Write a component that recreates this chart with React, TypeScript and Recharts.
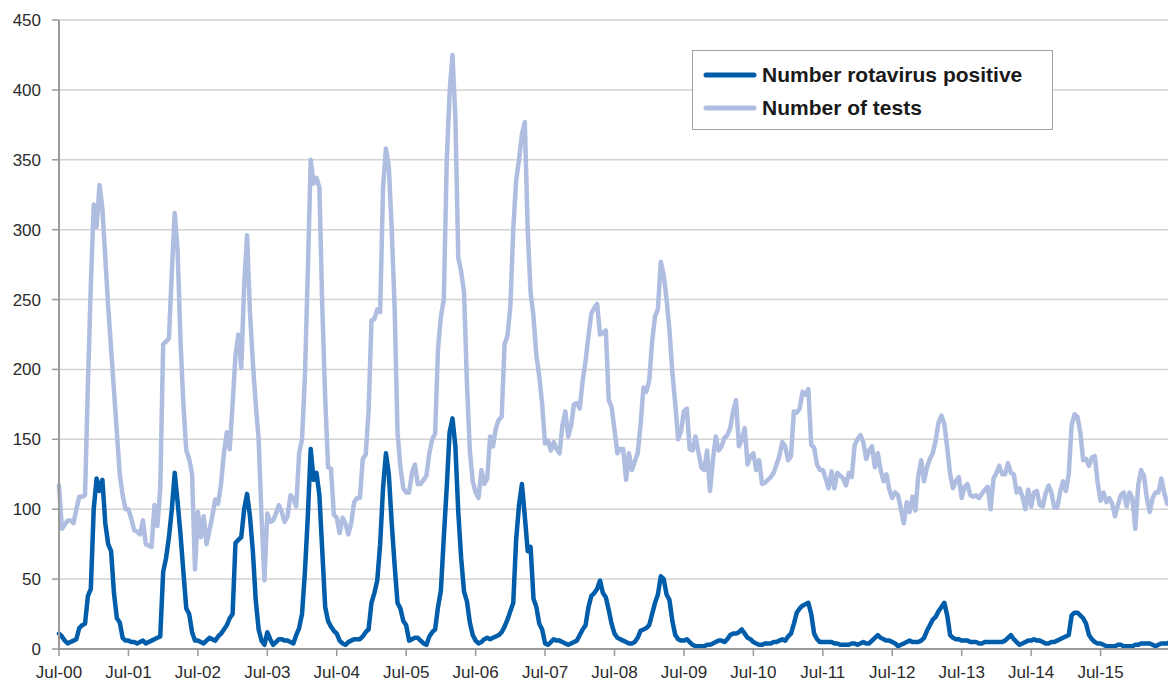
import React from 'react';
import { LineChart, Line, XAxis, YAxis, CartesianGrid, Legend, ReferenceLine } from 'recharts';

// Half-monthly periods counted from July 2000; one axis label per July.
const yearLabels = [
  'Jul-00', 'Jul-01', 'Jul-02', 'Jul-03', 'Jul-04', 'Jul-05', 'Jul-06', 'Jul-07',
  'Jul-08', 'Jul-09', 'Jul-10', 'Jul-11', 'Jul-12', 'Jul-13', 'Jul-14', 'Jul-15', '',
];
const periodsPerYear = 24;
const valueTicks = [0, 50, 100, 150, 200, 250, 300, 350, 400, 450];

const positiveCounts = [
  11, 9, 6, 4, 5, 6, 7, 15, 17, 18, 38, 43, 100, 122, 113, 121, 90, 75, 70, 40, 22, 19, 8, 6, 6,
  5, 5, 4, 5, 6, 4, 5, 6, 7, 8, 9, 55, 65, 80, 100, 126, 105, 82, 55, 29, 25, 12, 6, 6,
  5, 4, 6, 8, 7, 6, 9, 11, 14, 17, 22, 25, 76, 78, 80, 100, 111, 95, 70, 35, 14, 6, 3, 12,
  7, 3, 5, 7, 7, 6, 6, 5, 4, 10, 15, 25, 55, 95, 143, 121, 126, 110, 70, 30, 20, 16, 13, 11,
  6, 4, 3, 5, 6, 7, 7, 7, 9, 12, 14, 33, 40, 49, 75, 115, 140, 125, 90, 60, 33, 29, 20, 17,
  6, 7, 8, 8, 6, 4, 3, 9, 12, 14, 30, 42, 80, 115, 155, 165, 145, 98, 65, 41, 34, 19, 10, 6,
  4, 5, 7, 8, 7, 8, 9, 10, 12, 16, 21, 27, 33, 78, 103, 118, 95, 70, 73, 36, 30, 18, 14, 4,
  3, 5, 7, 6, 6, 5, 4, 3, 4, 5, 6, 10, 14, 17, 30, 38, 40, 43, 49, 40, 37, 28, 18, 11,
  8, 7, 6, 5, 4, 4, 5, 8, 13, 14, 15, 17, 25, 33, 39, 52, 50, 39, 35, 20, 10, 7, 6, 6,
  7, 5, 3, 2, 2, 2, 2, 3, 3, 4, 5, 6, 6, 5, 7, 10, 11, 11, 12, 14, 11, 8, 7, 5,
  4, 3, 3, 4, 4, 4, 5, 5, 6, 7, 6, 9, 11, 18, 26, 29, 31, 32, 33, 25, 11, 7, 5, 5,
  5, 5, 5, 4, 4, 3, 3, 3, 3, 4, 4, 3, 4, 5, 4, 4, 6, 8, 10, 8, 7, 6, 6, 5,
  4, 2, 3, 4, 5, 6, 5, 5, 5, 6, 8, 13, 17, 21, 23, 27, 30, 33, 24, 10, 8, 7, 7, 6,
  6, 6, 5, 5, 5, 4, 4, 5, 5, 5, 5, 5, 5, 5, 6, 8, 10, 7, 5, 3, 4, 5, 6, 6,
  7, 6, 6, 5, 4, 4, 5, 5, 6, 7, 8, 9, 10, 24, 26, 26, 24, 22, 18, 10, 7, 5, 4, 4,
  3, 2, 2, 2, 2, 3, 3, 2, 2, 2, 2, 3, 3, 4, 4, 4, 4, 3, 2, 3, 4, 4, 4, 5,
];

const testCounts = [
  117, 86, 89, 92, 92, 90, 100, 109, 109, 110, 190, 260, 318, 302, 332, 315, 280, 245, 215, 185, 155, 125, 110, 100, 100,
  93, 85, 84, 82, 92, 75, 74, 73, 103, 88, 115, 218, 220, 222, 270, 312, 285, 220, 175, 142, 136, 125, 57, 98,
  80, 95, 75, 85, 95, 107, 104, 118, 140, 155, 143, 175, 210, 225, 201, 260, 296, 241, 205, 175, 150, 95, 49, 97,
  91, 92, 97, 103, 98, 91, 95, 110, 108, 102, 140, 150, 195, 270, 350, 333, 337, 330, 245, 180, 130, 129, 96, 94,
  83, 94, 90, 82, 90, 105, 108, 108, 136, 139, 170, 235, 236, 243, 241, 330, 358, 345, 300, 245, 155, 130, 115, 112,
  112, 126, 132, 118, 118, 121, 124, 140, 150, 154, 215, 238, 250, 348, 398, 425, 380, 280, 270, 255, 190, 142, 120, 112,
  108, 128, 118, 122, 152, 145, 158, 164, 166, 218, 224, 245, 300, 335, 350, 368, 377, 300, 255, 238, 210, 195, 175, 147,
  149, 142, 148, 143, 140, 160, 170, 152, 160, 175, 176, 172, 192, 206, 224, 240, 244, 247, 225, 226, 228, 178, 173, 157,
  140, 143, 143, 121, 140, 128, 134, 140, 160, 187, 184, 192, 220, 238, 243, 277, 268, 250, 228, 198, 175, 150, 156, 170,
  172, 143, 142, 152, 141, 130, 128, 142, 113, 135, 152, 142, 145, 151, 153, 158, 170, 178, 145, 150, 158, 132, 138, 140,
  128, 135, 118, 119, 121, 123, 126, 132, 138, 148, 145, 135, 138, 170, 169, 172, 184, 182, 186, 146, 144, 132, 128, 128,
  122, 115, 127, 115, 126, 124, 122, 117, 126, 123, 146, 150, 153, 148, 136, 142, 145, 130, 140, 128, 120, 125, 114, 108,
  112, 110, 100, 90, 105, 98, 109, 99, 124, 135, 120, 130, 136, 140, 149, 162, 167, 161, 144, 125, 115, 120, 123, 108,
  116, 118, 110, 109, 110, 108, 111, 114, 116, 100, 122, 126, 131, 125, 125, 133, 126, 125, 112, 115, 109, 100, 114, 102,
  112, 113, 103, 102, 111, 117, 112, 101, 101, 112, 120, 113, 125, 160, 168, 166, 155, 135, 136, 131, 137, 138, 119, 106,
  112, 105, 108, 104, 95, 103, 110, 112, 102, 112, 108, 86, 117, 128, 124, 108, 98, 108, 112, 112, 122, 112, 104, 106,
];

const seriesNames = {
  positives: 'Number rotavirus positive',
  tests: 'Number of tests',
};
const seriesColors = {
  positives: '#005DAA',
  tests: '#AEBDE0',
};

const data = positiveCounts.map((p, i) => ({ period: i, positives: p, tests: testCounts[i] }));
const lastPeriod = (yearLabels.length - 1) * periodsPerYear;
const yearTicks = yearLabels.map((_, k) => k * periodsPerYear);

const fontFamily = '"Liberation Sans", Arial, Helvetica, sans-serif';
const tickStyle = { fontFamily, fontSize: 17, fill: '#2b2b2b' };

const LegendBox = () => {
  const rows = [
    { key: 'positives', top: 24 },
    { key: 'tests', top: 57 },
  ] as const;
  return (
    <div
      style={{
        position: 'relative',
        width: 361,
        height: 80,
        boxSizing: 'border-box',
        border: '1px solid #a3a3a3',
        background: '#ffffff',
        fontFamily,
        fontWeight: 'bold',
        fontSize: 21,
        color: '#1a1a1a',
      }}
    >
      {rows.map((r) => (
        <div key={r.key} style={{ position: 'absolute', left: 0, top: r.top - 12, height: 24, width: '100%' }}>
          <svg width={60} height={24} style={{ position: 'absolute', left: 8, top: 0 }}>
            <line x1={5} y1={12} x2={53} y2={12} stroke={seriesColors[r.key]} strokeWidth={5} strokeLinecap="round" />
          </svg>
          <span style={{ position: 'absolute', left: 69, top: 0, lineHeight: '24px', whiteSpace: 'nowrap' }}>
            {seriesNames[r.key]}
          </span>
        </div>
      ))}
    </div>
  );
};

export default function App() {
  return (
    <LineChart width={1168} height={675} data={data} margin={{ top: 12, right: 6, bottom: 0, left: 0 }}>
      <CartesianGrid vertical={false} stroke="#d2d2d2" strokeWidth={1.5} />
      <ReferenceLine x={lastPeriod} stroke="#d2d2d2" strokeWidth={2} />
      <XAxis
        dataKey="period"
        type="number"
        domain={[0, lastPeriod]}
        ticks={yearTicks}
        interval={0}
        tickFormatter={(v: number) => yearLabels[Math.round(v / periodsPerYear)] ?? ''}
        height={34}
        tickSize={7}
        tickMargin={10}
        tick={tickStyle}
        axisLine={{ stroke: '#9a9a9a', strokeWidth: 2 }}
        tickLine={{ stroke: '#9a9a9a', strokeWidth: 1.5 }}
      />
      <YAxis
        domain={[0, 450]}
        ticks={valueTicks}
        interval={0}
        width={51}
        tickSize={7}
        tickMargin={11}
        tick={tickStyle}
        axisLine={{ stroke: '#9a9a9a', strokeWidth: 2 }}
        tickLine={{ stroke: '#9a9a9a', strokeWidth: 1.5 }}
      />
      <Legend
        layout="vertical"
        align="center"
        verticalAlign="middle"
        content={() => <LegendBox />}
        wrapperStyle={{ left: 684, top: 42, width: 361, height: 80 }}
      />
      <Line
        dataKey="tests"
        name={seriesNames.tests}
        type="linear"
        stroke={seriesColors.tests}
        strokeWidth={4.5}
        strokeLinejoin="round"
        strokeLinecap="round"
        dot={false}
        activeDot={false}
        isAnimationActive={false}
      />
      <Line
        dataKey="positives"
        name={seriesNames.positives}
        type="linear"
        stroke={seriesColors.positives}
        strokeWidth={4.5}
        strokeLinejoin="round"
        strokeLinecap="round"
        dot={false}
        activeDot={false}
        isAnimationActive={false}
      />
    </LineChart>
  );
}
